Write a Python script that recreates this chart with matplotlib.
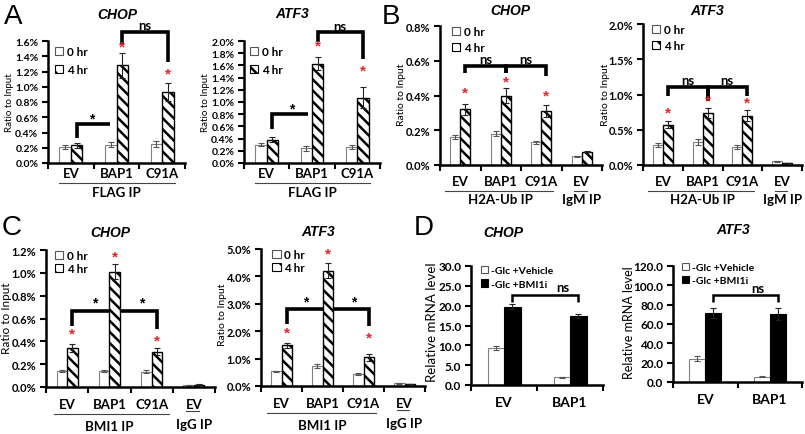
import numpy as np
import matplotlib
matplotlib.use('Agg')
import matplotlib.pyplot as plt
import matplotlib.transforms as mtransforms
from matplotlib.patches import Patch

# ---------------- data ----------------
ip_groups = ['EV', 'BAP1', 'C91A']
ip_groups_ctrl = ['EV', 'BAP1', 'C91A', 'EV']
d_groups = ['EV', 'BAP1']
legend_time = ['0 hr', '4 hr']
legend_drug = ['-Glc +Vehicle', '-Glc +BMI1i']

# A: FLAG IP
a_chop_0h = [0.21, 0.24, 0.25]
a_chop_0h_err = [0.03, 0.035, 0.04]
a_chop_4h = [0.23, 1.28, 0.93]
a_chop_4h_err = [0.03, 0.16, 0.12]
a_atf3_0h = [0.30, 0.24, 0.26]
a_atf3_0h_err = [0.02, 0.04, 0.03]
a_atf3_4h = [0.38, 1.63, 1.07]
a_atf3_4h_err = [0.04, 0.10, 0.17]

# B: H2A-Ub IP / IgM IP
b_chop_0h = [0.16, 0.18, 0.13, 0.05]
b_chop_0h_err = [0.01, 0.015, 0.01, 0.003]
b_chop_4h = [0.32, 0.40, 0.31, 0.075]
b_chop_4h_err = [0.03, 0.045, 0.035, 0.003]
b_atf3_0h = [0.28, 0.33, 0.26, 0.05]
b_atf3_0h_err = [0.03, 0.04, 0.03, 0.005]
b_atf3_4h = [0.57, 0.74, 0.70, 0.03]
b_atf3_4h_err = [0.05, 0.07, 0.08, 0.005]

# C: BMI1 IP / IgG IP
c_chop_0h = [0.14, 0.14, 0.135, 0.015]
c_chop_0h_err = [0.008, 0.01, 0.012, 0.002]
c_chop_4h = [0.34, 1.01, 0.31, 0.02]
c_chop_4h_err = [0.035, 0.065, 0.03, 0.002]
c_atf3_0h = [0.53, 0.72, 0.43, 0.10]
c_atf3_0h_err = [0.02, 0.08, 0.03, 0.01]
c_atf3_4h = [1.48, 4.21, 1.05, 0.07]
c_atf3_4h_err = [0.08, 0.28, 0.12, 0.01]

# D: relative mRNA
d_chop_veh = [9.3, 1.9]
d_chop_veh_err = [0.5, 0.1]
d_chop_bmi = [19.7, 17.4]
d_chop_bmi_err = [0.6, 0.6]
d_atf3_veh = [24.0, 5.5]
d_atf3_veh_err = [2.5, 0.3]
d_atf3_bmi = [71.5, 70.5]
d_atf3_bmi_err = [5.0, 6.0]

# ---------------- style ----------------
W, H = 805, 435
fig = plt.figure(figsize=(W / 100, H / 100), dpi=100)
plt.rcParams['hatch.linewidth'] = 1.8

LAB = 'Lato'
ARIAL = 'Liberation Sans'
RED = '#e3242b'
BW = 0.25
HATCH = 3 * '\\'


def add_ax(l, r, t, b):
    return fig.add_axes([l / W, 1 - b / H, (r - l) / W, (b - t) / H])


def base_style(ax, n, ymax, ystep, fmt, fs=8):
    ax.set_xlim(-0.5, n - 0.5)
    ax.set_ylim(0, ymax)
    for s in ['top', 'right']:
        ax.spines[s].set_visible(False)
    for s in ['left', 'bottom']:
        ax.spines[s].set_linewidth(1.8)
    ax.set_xticks(np.arange(n + 1) - 0.5)
    ax.set_xticklabels([])
    ticks = np.arange(0, ymax + ystep / 2, ystep)
    ax.set_yticks(ticks)
    ax.set_yticklabels([fmt.format(t) for t in ticks], fontsize=fs,
                       fontweight='bold', family=LAB)
    ax.tick_params(axis='both', direction='out', length=4, width=1.5, pad=3)
    ax.patch.set_alpha(0)


def below(ax, d):
    return mtransforms.offset_copy(ax.get_xaxis_transform(), fig=fig,
                                   x=0, y=-d, units='dots')


ERR0 = dict(ecolor='#555555', elinewidth=0.8, capsize=2.5, capthick=0.8)
ERR4 = dict(ecolor='#222222', elinewidth=0.8, capsize=2.5, capthick=0.8)


def paired_bars(ax, v0, e0, v4, e4, solid=False):
    x = np.arange(len(v0))
    ax.bar(x - BW / 2, v0, BW, color='white', edgecolor='#808080',
           linewidth=0.8, yerr=e0, error_kw=ERR0, zorder=2)
    if solid:
        ax.bar(x + BW / 2, v4, BW, color='black', edgecolor='black',
               linewidth=0.8, yerr=e4, error_kw=ERR4, zorder=2)
    else:
        ax.bar(x + BW / 2, v4, BW, color='white', edgecolor='black',
               hatch=HATCH, linewidth=1.0, yerr=e4, error_kw=ERR4, zorder=2)


def time_legend(ax, x, y, spacing, fs=8.5):
    h = [Patch(facecolor='white', edgecolor='#555555', linewidth=0.8),
         Patch(facecolor='white', edgecolor='black', hatch=2 * '\\', linewidth=0.8)]
    ax.legend(h, legend_time, loc='upper left', bbox_to_anchor=(x, y),
              frameon=False, borderpad=0, borderaxespad=0, handlelength=0.7,
              handleheight=0.7, handletextpad=0.3, labelspacing=spacing,
              prop=dict(family=LAB, weight='bold', size=fs))


def drug_legend(ax, x, y, spacing, fs=7.5):
    h = [Patch(facecolor='white', edgecolor='#555555', linewidth=0.8),
         Patch(facecolor='black', edgecolor='black', linewidth=0.8)]
    ax.legend(h, legend_drug, loc='upper left', bbox_to_anchor=(x, y),
              frameon=False, borderpad=0, borderaxespad=0, handlelength=0.7,
              handleheight=0.7, handletextpad=0.3, labelspacing=spacing,
              prop=dict(family=LAB, weight='bold', size=fs))


def cat_labels(ax, names, d, fs=9.5):
    for i, nm in enumerate(names):
        ax.text(i, 0, nm, transform=below(ax, d), ha='center', va='center',
                fontsize=fs, fontweight='bold', family=LAB)


def group_label(ax, text, xc, x1, x2, d_line, d_text, fs=9.5):
    ax.plot([x1, x2], [0, 0], transform=below(ax, d_line), color='#444444',
            lw=0.8, clip_on=False)
    ax.text(xc, 0, text, transform=below(ax, d_text), ha='center', va='center',
            fontsize=fs, fontweight='bold', family=LAB)


def bracket(ax, x1, x2, y, y1=None, y2=None, lw=2.6):
    xs, ys = [], []
    if y1 is not None:
        xs.append(x1); ys.append(y1)
    xs += [x1, x2]; ys += [y, y]
    if y2 is not None:
        xs.append(x2); ys.append(y2)
    ax.plot(xs, ys, color='black', lw=lw, clip_on=False,
            solid_joinstyle='miter', solid_capstyle='butt', zorder=5)


def star(ax, x, y, color=RED, fs=11):
    ax.text(x, y, '*', color=color, ha='center', va='center', fontsize=fs,
            fontweight='bold', family=ARIAL, clip_on=False, zorder=6)


def note(ax, x, y, txt, fs=9.5):
    ax.text(x, y, txt, ha='center', va='center', fontsize=fs,
            fontweight='bold', family=LAB, clip_on=False, zorder=6)


def ylab(x, y, txt, fs):
    fig.text(x / W, 1 - y / H, txt, rotation=90, ha='center', va='center',
             fontsize=fs, family=LAB)


def title(x, y, txt):
    fig.text(x / W, 1 - y / H, txt, ha='center', va='center', fontsize=10,
             fontweight='bold', fontstyle='italic', family=ARIAL)


def letter(x, y, txt):
    fig.text(x / W, 1 - y / H, txt, ha='center', va='center', fontsize=20,
             family=ARIAL)


L = BW / 2  # offset of the 4 hr bar centre

# ---------------- A ----------------
ax = add_ax(48, 185, 42, 164)
base_style(ax, 3, 1.6, 0.2, '{:.1f}%', fs=7.5)
paired_bars(ax, a_chop_0h, a_chop_0h_err, a_chop_4h, a_chop_4h_err)
time_legend(ax, 0.05, 0.96, 0.6)
cat_labels(ax, ip_groups, 10)
group_label(ax, 'FLAG IP', 1, -0.26, 2.28, 20, 29)
bracket(ax, L, 0.86, 0.51, y1=0.33)
star(ax, 0.46, 0.58, color='black', fs=10)
bracket(ax, 1 + L, 2 + L, 1.72, y1=1.56, y2=1.32)
note(ax, 1.62, 1.81, 'ns')
star(ax, 1 + L, 1.53)
star(ax, 2 + L, 1.17)
ylab(9, 103, 'Ratio to Input', 7)
title(117, 15, 'CHOP')
letter(13, 17, 'A')

ax = add_ax(244, 380, 42, 164)
base_style(ax, 3, 2.0, 0.2, '{:.1f}%', fs=7.5)
paired_bars(ax, a_atf3_0h, a_atf3_0h_err, a_atf3_4h, a_atf3_4h_err)
time_legend(ax, 0.045, 0.96, 0.6)
cat_labels(ax, ip_groups, 10)
group_label(ax, 'FLAG IP', 1, -0.26, 2.28, 20, 29)
bracket(ax, L, 0.91, 0.80, y1=0.55)
star(ax, 0.56, 0.89, color='black', fs=10)
bracket(ax, 1 + L, 2 + L, 2.15, y1=1.98, y2=1.70)
note(ax, 1.62, 2.25, 'ns')
star(ax, 1 + L, 1.92)
star(ax, 2 + L, 1.51)
ylab(205, 103, 'Ratio to Input', 7)
title(292, 14, 'ATF3')

# ---------------- B ----------------
ax = add_ax(440, 602, 27, 166)
base_style(ax, 4, 0.8, 0.2, '{:.1f}%')
paired_bars(ax, b_chop_0h, b_chop_0h_err, b_chop_4h, b_chop_4h_err)
time_legend(ax, 0.074, 1.0, 0.45)
cat_labels(ax, ip_groups_ctrl, 16)
group_label(ax, 'H2A-Ub IP', 1, -0.37, 2.3, 26, 34)
group_label(ax, 'IgM IP', 3, 2.82, 3.12, 26, 34)
bracket(ax, L, 1 + L, 0.57, y1=0.53, y2=0.53)
bracket(ax, 1 + L, 2 + L, 0.57, y1=0.53, y2=0.51)
note(ax, 0.62, 0.61, 'ns')
note(ax, 1.62, 0.61, 'ns')
star(ax, L, 0.42)
star(ax, 1 + L, 0.48)
star(ax, 2 + L, 0.40)
ylab(401, 95, 'Ratio to Input', 7.5)
title(510, 11, 'CHOP')
letter(391, 17, 'B')

ax = add_ax(643, 802, 25, 166)
base_style(ax, 4, 2.0, 0.5, '{:.1f}%')
paired_bars(ax, b_atf3_0h, b_atf3_0h_err, b_atf3_4h, b_atf3_4h_err)
time_legend(ax, 0.057, 1.0, 0.45)
cat_labels(ax, ip_groups_ctrl, 16)
group_label(ax, 'H2A-Ub IP', 1, -0.37, 2.3, 26, 34)
group_label(ax, 'IgM IP', 3, 2.82, 3.12, 26, 34)
bracket(ax, L, 1 + L, 1.11, y1=0.98, y2=0.91)
bracket(ax, 1 + L, 2 + L, 1.11, y1=0.91, y2=0.98)
note(ax, 0.62, 1.20, 'ns')
note(ax, 1.62, 1.20, 'ns')
star(ax, L, 0.75)
star(ax, 1 + L, 0.91)
star(ax, 2 + L, 0.89)
ylab(605, 95, 'Ratio to Input', 7.5)
title(707, 11, 'ATF3')

# ---------------- C ----------------
ax = add_ax(46, 215, 251, 388)
base_style(ax, 4, 1.2, 0.2, '{:.1f}%')
paired_bars(ax, c_chop_0h, c_chop_0h_err, c_chop_4h, c_chop_4h_err)
time_legend(ax, 0.053, 1.0, 0.2)
cat_labels(ax, ip_groups_ctrl, 17)
group_label(ax, 'BMI1 IP', 1, -0.3, 2.4, 27, 39)
group_label(ax, 'IgG IP', 3, 2.82, 3.12, 24, 37)
bracket(ax, L, 1.0, 0.67, y1=0.53)
bracket(ax, 1 + 2 * L, 2 + L, 0.67, y2=0.51)
star(ax, 0.66, 0.74, color='black', fs=10)
star(ax, 1.77, 0.74, color='black', fs=10)
star(ax, L, 0.47)
star(ax, 1 + L, 1.14)
star(ax, 2 + L, 0.41)
ylab(7, 318, 'Ratio to Input', 8.5)
title(110, 233, 'CHOP')
letter(12, 228, 'C')

ax = add_ax(261, 425, 250, 387)
base_style(ax, 4, 5.0, 1.0, '{:.1f}%')
paired_bars(ax, c_atf3_0h, c_atf3_0h_err, c_atf3_4h, c_atf3_4h_err)
time_legend(ax, 0.07, 1.0, 0.2)
cat_labels(ax, ip_groups_ctrl, 17)
group_label(ax, 'BMI1 IP', 1, -0.36, 2.3, 27, 39)
group_label(ax, 'IgG IP', 3, 2.82, 3.12, 24, 37)
bracket(ax, L, 1.0, 2.82, y1=2.27)
bracket(ax, 1 + 2 * L, 2 + L, 2.82, y2=2.2)
star(ax, 0.6, 3.1, color='black', fs=10)
star(ax, 1.75, 3.1, color='black', fs=10)
star(ax, L, 1.97)
star(ax, 1 + L, 4.84)
star(ax, 2 + L, 1.78)
ylab(222, 315, 'Ratio to Input', 7.5)
title(318, 232, 'ATF3')

# ---------------- D ----------------
ax = add_ax(471, 603, 267, 386)
base_style(ax, 2, 30, 5, '{:.1f}', fs=8.5)
paired_bars(ax, d_chop_veh, d_chop_veh_err, d_chop_bmi, d_chop_bmi_err, solid=True)
drug_legend(ax, 0.076, 1.0, 0.4)
cat_labels(ax, d_groups, 17, fs=10)
bracket(ax, L, 1 + L, 22.6, y1=21.0, y2=21.0, lw=1.8)
note(ax, 0.89, 24.6, 'ns')
ylab(432, 322, 'Relative mRNA level', 9.5)
title(503, 233, 'CHOP')
letter(424, 228, 'D')

ax = add_ax(673, 802, 267, 383)
base_style(ax, 2, 120, 20, '{:.1f}', fs=8.5)
paired_bars(ax, d_atf3_veh, d_atf3_veh_err, d_atf3_bmi, d_atf3_bmi_err, solid=True)
drug_legend(ax, 0.07, 1.03, 0.4)
cat_labels(ax, d_groups, 17, fs=10)
bracket(ax, L, 1 + L, 90, y1=83, y2=83, lw=1.8)
note(ax, 0.82, 97, 'ns')
ylab(629, 323, 'Relative mRNA level', 9)
title(733, 230, 'ATF3')

fig.savefig('out.png', dpi=100)
